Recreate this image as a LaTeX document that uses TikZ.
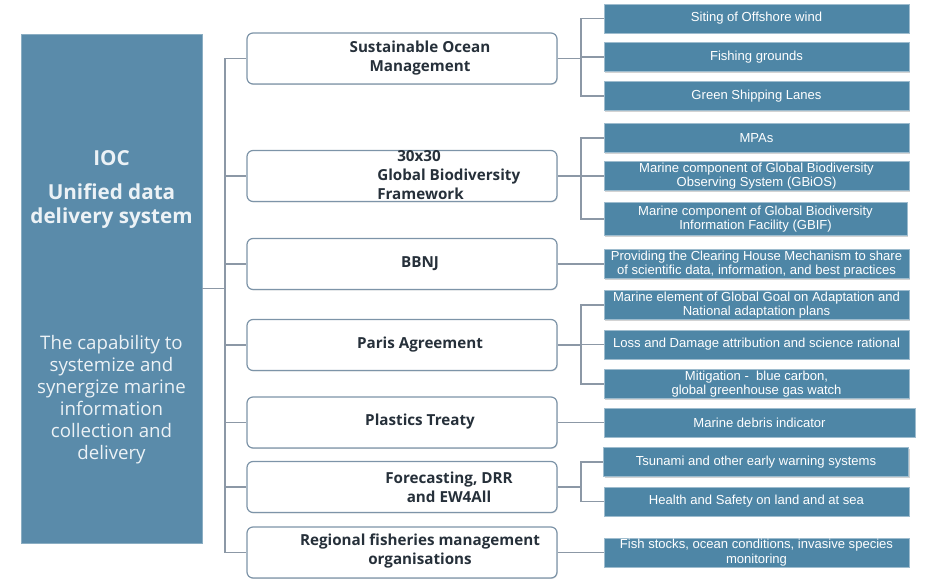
\documentclass[tikz,border=0pt]{standalone}
\usepackage{fontspec}
\setmainfont{Liberation Sans}
\newfontfamily\opensfont{Open Sans}
\usetikzlibrary{shapes.misc,shadows}

\definecolor{iocblue}{RGB}{90,139,170}
\definecolor{kidblue}{RGB}{78,134,166}
\definecolor{linegray}{RGB}{140,152,166}
\definecolor{midedge}{RGB}{125,148,168}
\definecolor{midtext}{RGB}{38,48,58}
\definecolor{ioctext}{RGB}{236,242,246}

\tikzset{
  midbox/.style={draw=midedge, line width=0.9pt, fill=white, rounded corners=4.5pt,
    minimum width=232.5pt, minimum height=38.25pt, inner sep=0pt,
    drop shadow={shadow xshift=0.5pt, shadow yshift=-0.7pt, opacity=0.25}},
  midlabel/.style={font=\opensfont\bfseries\fontsize{11.4}{14.2}\selectfont, text=midtext,
    align=center, inner sep=0pt},
  kidbox/.style={fill=kidblue, draw=kidblue!55!white, line width=0.4pt,
    minimum width=228.75pt, minimum height=22pt, inner sep=0pt, text=white, align=center,
    font=\fontsize{9.8}{10.8}\selectfont,
    drop shadow={shadow xshift=0.9pt, shadow yshift=-0.9pt, opacity=0.35}},
  link/.style={draw=linegray, line width=0.8pt}
}

\begin{document}
\begin{tikzpicture}[x=0.75pt,y=0.75pt,yscale=-1]
	\useasboundingbox (0,0) rectangle (927,581);
	
	%Shape: IOC box
	\node [fill=iocblue, draw=iocblue!70!white, minimum width=135.75pt, minimum height=381.75pt, inner sep=0pt] (ioc) at (111.5,288.5) {};
	% Text Node
	\node [text=ioctext, font=\opensfont\bfseries\fontsize{15.5}{18}\selectfont, inner sep=0pt] (ioctitle) at (111.5,158) {IOC};
	% Text Node
	\node [text=ioctext, font=\opensfont\bfseries\fontsize{15.5}{18}\selectfont, align=center, inner sep=0pt] (iocsub) at (111.5,206) {Unified data\\delivery system};
	% Text Node
	\node [text=ioctext, font=\opensfont\fontsize{14}{16.5}\selectfont, align=center, inner sep=0pt] (iocdesc) at (111.5,400) {The capability to\\systemize and\\synergize marine\\information\\collection and\\delivery};
	
	%Shape: middle boxes
	\node [midbox] (som) at (402,58.5) {};
	\node [midbox] (gbf) at (402,176) {};
	\node [midbox] (bbnj) at (402,264) {};
	\node [midbox] (paris) at (402,345) {};
	\node [midbox] (plastics) at (402,422.5) {};
	\node [midbox] (drr) at (402,487) {};
	\node [midbox] (rfmo) at (402,552.5) {};
	% Text Node
	\node [midlabel] (somtext) at (420,58) {Sustainable Ocean\\Management};
	\node [midlabel, align=left, anchor=west] (gbftext) at (377,175) {\hspace*{15pt}30x30\\Global Biodiversity\\Framework};
	\node [midlabel] (bbnjtext) at (420,264) {BBNJ};
	\node [midlabel] (paristext) at (420,345) {Paris Agreement};
	\node [midlabel] (plasticstext) at (420,422) {Plastics Treaty};
	\node [midlabel] (drrtext) at (449,487) {Forecasting, DRR\\and EW4All};
	\node [midlabel] (rfmotext) at (420,551) {Regional fisheries management\\organisations};
	
	%Shape: right boxes
	\node [kidbox] (wind) at (756.5,18.5) {Siting of Offshore wind};
	\node [kidbox] (fish) at (756.5,57) {Fishing grounds};
	\node [kidbox] (ship) at (756.5,96) {Green Shipping Lanes};
	\node [kidbox] (mpa) at (756.5,138) {MPAs};
	\node [kidbox] (gbios) at (756.5,176) {Marine component of Global Biodiversity\\Observing System (GBiOS)};
	\node [kidbox, minimum width=227.25pt, minimum height=25pt] (gbif) at (755.5,219) {Marine component of Global Biodiversity\\Information Facility (GBIF)};
	\node [kidbox] (chm) at (756.5,264) {Providing the Clearing House Mechanism to share\\of scientific data, information, and best practices};
	\node [kidbox] (gga) at (756.5,305) {Marine element of Global Goal on Adaptation and\\National adaptation plans};
	\node [kidbox] (loss) at (756.5,344.5) {Loss and Damage attribution and science rational};
	\node [kidbox] (mitig) at (756.5,384) {Mitigation -\ \ blue carbon,\\global greenhouse gas watch};
	\node [kidbox, minimum width=233.25pt] (debris) at (759.5,422.5) {Marine debris indicator};
	\node [kidbox] (tsunami) at (756,462) {Tsunami and other early warning systems};
	\node [kidbox] (health) at (756.5,501.5) {Health and Safety on land and at sea};
	\node [kidbox] (stocks) at (756.5,552.5) {Fish stocks, ocean conditions, invasive species\\monitoring};
	
	%Straight Lines: trunk
	\coordinate (hub) at (225,288.5);
	\draw [link] (ioc.east) -- (hub);
	\foreach \m in {som,gbf,bbnj,paris,plastics,drr,rfmo}
	  \draw [link] (hub) |- (\m.west);
	
	%Straight Lines: branches
	\coordinate (somfork) at (581,58.5);
	\coordinate (gbffork) at (581,176);
	\coordinate (parisfork) at (581,345);
	\coordinate (drrfork) at (581,487);
	\draw [link] (som.east) -- (somfork);
	\foreach \k in {wind,fish,ship}
	  \draw [link] (somfork) |- (\k.west);
	\draw [link] (gbf.east) -- (gbffork);
	\foreach \k in {mpa,gbios,gbif}
	  \draw [link] (gbffork) |- (\k.west);
	\draw [link] (paris.east) -- (parisfork);
	\foreach \k in {gga,loss,mitig}
	  \draw [link] (parisfork) |- (\k.west);
	\draw [link] (drr.east) -- (drrfork);
	\foreach \k in {tsunami,health}
	  \draw [link] (drrfork) |- (\k.west);
	\draw [link] (bbnj.east) -- (chm.west);
	\draw [link] (plastics.east) -- (debris.west);
	\draw [link] (rfmo.east) -- (stocks.west);
	
\end{tikzpicture}
\end{document}
